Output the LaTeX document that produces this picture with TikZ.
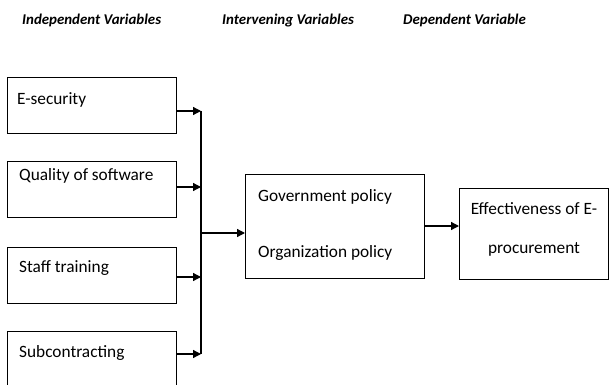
\documentclass[tikz,border=0pt]{standalone}
\usepackage{fontspec}
\setmainfont{Carlito}
\usetikzlibrary{arrows.meta}
\tikzset{
  box/.style={draw, line width=1.2pt, inner sep=0pt, anchor=north west},
  txt/.style={font=\fontsize{17.3}{20}\selectfont, inner sep=0pt, anchor=west},
  ctxt/.style={font=\fontsize{17.3}{20}\selectfont, inner sep=0pt},
  hd/.style={font=\fontsize{14.9}{17}\selectfont\bfseries\itshape, inner sep=0pt, anchor=base west},
  arr/.style={line width=1.3pt, -{Triangle[length=8pt,width=8pt]}},
  ln/.style={line width=1.3pt}
}
\begin{document}
\begin{tikzpicture}[x=1pt,y=-1pt]
\useasboundingbox (0,0) rectangle (610,385);
\clip (0,0) rectangle (610,385);
\fill[white] (0,0) rectangle (610,385);
% headings
\node[hd] (h1) at (22,25) {Independent Variables};
\node[hd] (h2) at (222,25) {Intervening Variables};
\node[hd] (h3) at (403,25) {Dependent Variable};
% left boxes
\node[box, minimum width=169pt, minimum height=56pt] (b1) at (7,77) {};
\node[box, minimum width=169pt, minimum height=56pt] (b2) at (7,161) {};
\node[box, minimum width=169pt, minimum height=56pt] (b3) at (7,247) {};
\node[box, minimum width=169pt, minimum height=58pt] (b4) at (7,331) {};
\node[txt] (t1) at (17,100) {E-security};
\node[txt] (t2) at (19,176) {Quality of software};
\node[txt] (t3) at (19,268) {Staff training};
\node[txt] (t4) at (19,353) {Subcontracting};
% middle box
\node[box, minimum width=179pt, minimum height=104pt] (m) at (245,174) {};
\node[txt] (g) at (258,197) {Government policy};
\node[txt] (o) at (258,253) {Organization policy};
% right box
\node[box, minimum width=149pt, minimum height=91pt] (r) at (459,188) {};
\node[ctxt] (e1) at (534,209) {Effectiveness of E-};
\node[ctxt] (e2) at (534,249) {procurement};
% junction line
\coordinate (j1) at (201,111);
\coordinate (j2) at (201,187);
\coordinate (j3) at (201,277);
\coordinate (j4) at (201,354);
\coordinate (jm) at (201,233);
\coordinate (km) at (424,226);
\draw[ln] (j1) -- (j4);
\draw[arr] (b1.east |- j1) -- (j1);
\draw[arr] (b2.east |- j2) -- (j2);
\draw[arr] (b3.east |- j3) -- (j3);
\draw[arr] (b4.east |- j4) -- (j4);
\draw[arr] (jm) -- (m.west |- jm);
\draw[arr] (m.east |- km) -- (km -| r.west);
\end{tikzpicture}
\end{document}
